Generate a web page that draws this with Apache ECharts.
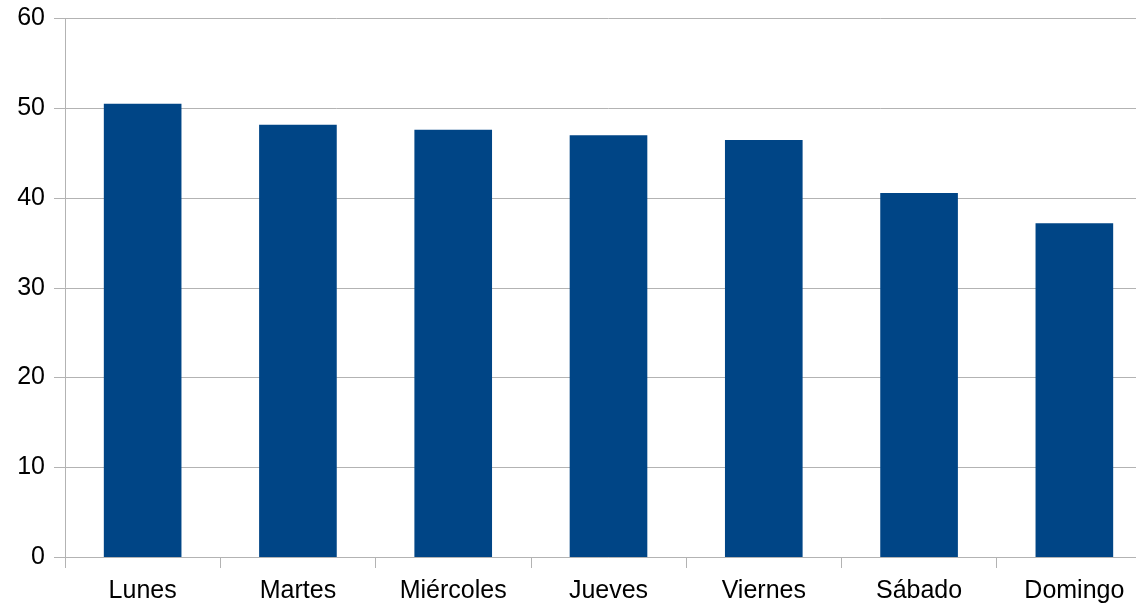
<!DOCTYPE html>
<html><head><meta charset="utf-8">
<script src="https://cdn.jsdelivr.net/npm/echarts@6/dist/echarts.min.js"></script>
<style>html,body{margin:0;padding:0;background:#fff;overflow:hidden;width:1136px;height:611px}#c{width:1152px;height:611px}</style>
</head><body><div id="c"></div>
<script>
const categories = ['Lunes','Martes','Miércoles','Jueves','Viernes','Sábado','Domingo'];
const values = [50.5, 48.15, 47.6, 47.0, 46.45, 40.55, 37.2];
const yTicks = [0,10,20,30,40,50,60];

const chart = echarts.init(document.getElementById('c'));
chart.setOption({
  animation: false,
  grid: {left: 65, top: 18.5, bottom: 54, right: 0, containLabel: false},
  xAxis: {
    type: 'category', data: categories,
    axisLine: {lineStyle: {color: '#b3b3b3', width: 1}},
    axisTick: {show: true, length: 11, lineStyle: {color: '#b3b3b3'}},
    axisLabel: {color: '#000', fontFamily: 'Liberation Sans', fontSize: 25, margin: 22}
  },
  yAxis: {
    type: 'value', min: 0, max: 60, interval: 10,
    axisLine: {show: true, lineStyle: {color: '#b3b3b3', width: 1}},
    axisTick: {show: true, length: 11, lineStyle: {color: '#b3b3b3'}},
    splitLine: {lineStyle: {color: '#b3b3b3', width: 1}},
    axisLabel: {color: '#000', fontFamily: 'Liberation Sans', fontSize: 25, margin: 20,
      formatter: v => yTicks.includes(v) ? String(v) : ''}
  },
  series: [{type: 'bar', data: values, barWidth: '50%', itemStyle: {color: '#004586'}}]
});
</script></body></html>
